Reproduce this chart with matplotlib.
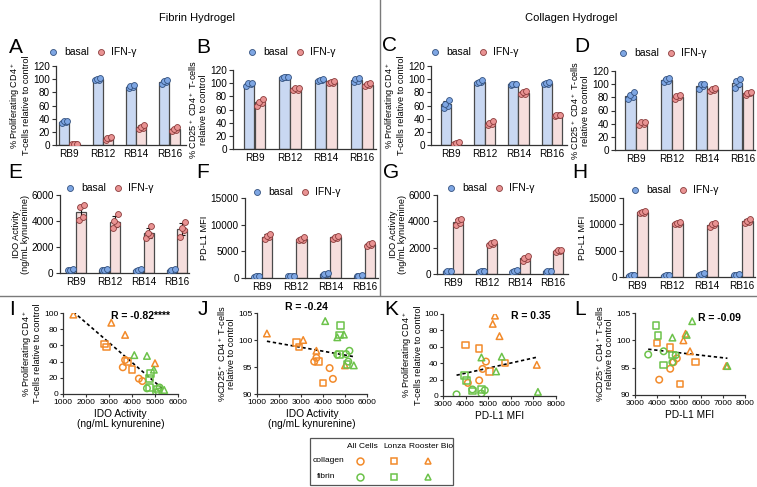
import numpy as np
import matplotlib
matplotlib.use("Agg")
import matplotlib.pyplot as plt
from matplotlib.patches import Rectangle

plt.rcParams['font.family'] = ['Liberation Sans', 'DejaVu Sans']
plt.rcParams['mathtext.fontset'] = 'custom'
plt.rcParams['mathtext.rm'] = 'Liberation Sans'
plt.rcParams['mathtext.default'] = 'regular'

# ---------------- data ----------------
cell_lines = ["RB9", "RB12", "RB14", "RB16"]
groups = ["basal", "IFN-γ"]

fib_prolif_basal = [[33, 35, 36, 37], [98, 99, 100, 102], [87, 88, 89, 91], [93, 95, 97, 99]]
fib_prolif_ifn = [[1, 2, 2, 2], [8, 10, 11, 12], [24, 26, 28, 31], [22, 23, 25, 27]]
fib_cd25_basal = [[96, 98, 100, 101], [108, 109, 110, 110], [104, 105, 105, 106], [102, 104, 106, 108]]
fib_cd25_ifn = [[66, 70, 72, 76], [89, 90, 92, 93], [100, 101, 102, 103], [96, 97, 98, 100]]
col_prolif_basal = [[56, 60, 63, 69], [94, 95, 96, 98], [91, 92, 92, 93], [93, 93, 94, 96]]
col_prolif_ifn = [[2, 3, 3, 4], [31, 32, 34, 36], [77, 78, 80, 82], [44, 45, 46, 46]]
col_cd25_basal = [[77, 80, 84, 88], [103, 105, 108, 110], [93, 97, 100, 101], [94, 100, 105, 108]]
col_cd25_ifn = [[38, 40, 42, 43], [78, 80, 82, 83], [90, 91, 93, 94], [84, 86, 87, 88]]
fib_ido_basal = [[200, 250, 250, 300], [200, 250, 250, 300], [150, 200, 200, 300], [150, 200, 200, 300]]
fib_ido_ifn = [[4100, 4300, 5100, 5200], [3500, 3800, 4000, 4500], [2700, 2900, 3100, 3600], [2800, 3300, 3500, 3900]]
fib_pdl1_basal = [[200, 300, 300, 400], [300, 400, 400, 400], [600, 800, 800, 900], [300, 400, 400, 500]]
fib_pdl1_ifn = [[7300, 7600, 7900, 8300], [7100, 7200, 7400, 7600], [7300, 7500, 7700, 7900], [6000, 6200, 6400, 6600]]
col_ido_basal = [[150, 200, 200, 250], [150, 200, 200, 250], [150, 200, 250, 300], [150, 200, 200, 250]]
col_ido_ifn = [[3700, 3900, 4100, 4200], [2200, 2300, 2350, 2450], [1000, 1150, 1250, 1350], [1700, 1750, 1800, 1850]]
col_pdl1_basal = [[200, 300, 300, 400], [200, 300, 300, 400], [300, 400, 500, 700], [300, 400, 400, 500]]
col_pdl1_ifn = [[12100, 12200, 12400, 12600], [10000, 10100, 10300, 10500], [9500, 9800, 10000, 10300], [10300, 10500, 10700, 11000]]

# correlation scatter data (per hydrogel / cell source)
hydrogels = ["collagen", "fibrin"]
sources = ["All Cells", "Lonza", "Rooster Bio"]
col_all_ido = [3600, 3700, 4300, 4450]
col_all_pdl1 = [4750, 4900, 4600, 4100]
col_all_prolif = [33, 42, 19, 16]
col_all_cd25 = [96.0, 96.7, 94.8, 92.8]
col_lonza_ido = [2800, 2900, 3800, 4000]
col_lonza_pdl1 = [4000, 4600, 5750, 5050]
col_lonza_prolif = [62, 58, 40, 30]
col_lonza_cd25 = [99.5, 98.7, 96.0, 92.0]
col_rooster_ido = [1450, 3100, 3700, 5000]
col_rooster_pdl1 = [5300, 5200, 5500, 7150]
col_rooster_prolif = [98, 88, 73, 38]
col_rooster_cd25 = [101.2, 100.0, 98.0, 95.3]
fib_all_ido = [5050, 5200, 5150, 4650]
fib_all_pdl1 = [3600, 4300, 4700, 4850]
fib_all_prolif = [2, 8, 3, 7]
fib_all_cd25 = [97.4, 98.0, 96.0, 97.3]
fib_lonza_ido = [4800, 4750, 5100, 4750]
fib_lonza_pdl1 = [3950, 4050, 4300, 4700]
fib_lonza_prolif = [25, 19, 6, 8]
fib_lonza_cd25 = [102.7, 100.9, 95.5, 97.3]
fib_rooster_ido = [4100, 4650, 4950, 5400]
fib_rooster_pdl1 = [5600, 4700, 5350, 7200]
fib_rooster_prolif = [48, 47, 30, 5]
fib_rooster_cd25 = [103.5, 100.5, 101.0, 95.3]
r_labels = ["R = -0.82****", "R = -0.24", "R = 0.35", "R = -0.09"]

# ---------------- figure ----------------
W, H = 757, 487
fig = plt.figure(figsize=(W / 100, H / 100), dpi=100)

def ax_px(x0, ytop, x1, ybot):
    return fig.add_axes([x0 / W, 1 - ybot / H, (x1 - x0) / W, (ybot - ytop) / H])

BLUE_FILL, BLUE_PT, BLUE_EDGE = '#C9D8F2', '#7EA6E3', '#34527F'
PINK_FILL, PINK_PT, PINK_EDGE = '#F6DEDD', '#E99393', '#8A3C3C'
ORANGE, GREEN = '#F28A2A', '#6CC24A'
JIT = np.array([-0.07, 0.05, -0.02, 0.08])

def style(ax, fs=7, ln=3, pad=1.5):
    for s in ['top', 'right']:
        ax.spines[s].set_visible(False)
    for s in ['left', 'bottom']:
        ax.spines[s].set_linewidth(0.9)
        ax.spines[s].set_color('#333333')
    ax.tick_params(axis='both', labelsize=fs, length=ln, width=0.8, pad=pad, colors='#333333', labelcolor='black')

def bar_panel(rect, basal, ifn, ylim, yticks, xlim, ylabel):
    ax = ax_px(*rect)
    x = np.arange(len(cell_lines))
    for vals, off, fc, pc, pe in [(basal, -0.155, BLUE_FILL, BLUE_PT, BLUE_EDGE),
                                  (ifn, 0.155, PINK_FILL, PINK_PT, PINK_EDGE)]:
        arr = np.array(vals, float)
        means = arr.mean(axis=1)
        sds = arr.std(axis=1, ddof=1)
        ax.bar(x + off, means, width=0.3, color=fc, edgecolor='#4a4a4a', linewidth=0.9, zorder=1)
        ax.errorbar(x + off, means, yerr=sds, fmt='none', ecolor='#111111', elinewidth=0.8,
                    capsize=2, capthick=0.8, zorder=2)
        for i in range(len(x)):
            ax.scatter(x[i] + off + JIT, arr[i], s=18, c=pc, edgecolors=pe, linewidths=0.6, zorder=3)
    ax.set_xlim(*xlim)
    ax.set_ylim(*ylim)
    ax.set_yticks(yticks)
    ax.set_xticks(x, cell_lines)
    style(ax, fs=7.2)
    ax.tick_params(axis='x', length=0, pad=3)
    ax.set_ylabel(ylabel, fontsize=6.6, labelpad=1, linespacing=1.0)
    return ax

lab_prolif = "% Proliferating CD4$^+$\nT-cells relative to control"
lab_cd25 = "% CD25$^+$ CD4$^+$ T-cells\nrelative to control"
lab_ido = "IDO Activity\n(ng/mL kynurenine)"
lab_pdl1 = "PD-L1 MFI"

pct = [0, 20, 40, 60, 80, 100, 120]
bar_panel((56, 66, 186, 145), fib_prolif_basal, fib_prolif_ifn, (0, 120), pct, (-0.4, 3.5), lab_prolif)
bar_panel((233, 70, 376, 149), fib_cd25_basal, fib_cd25_ifn, (0, 120), pct, (-0.6, 3.4), lab_cd25)
bar_panel((431, 66, 567, 145), col_prolif_basal, col_prolif_ifn, (0, 120), pct, (-0.6, 3.45), lab_prolif)
bar_panel((615, 71, 755, 150), col_cd25_basal, col_cd25_ifn, (0, 120), pct, (-0.6, 3.35), lab_cd25)
bar_panel((60, 195, 189, 273), fib_ido_basal, fib_ido_ifn, (0, 6000), [0, 2000, 4000, 6000], (-0.47, 3.35), lab_ido)
bar_panel((245, 198, 378, 278), fib_pdl1_basal, fib_pdl1_ifn, (0, 15000), [0, 5000, 10000, 15000], (-0.5, 3.4), lab_pdl1)
bar_panel((437, 195, 568, 274), col_ido_basal, col_ido_ifn, (0, 6000), [0, 2000, 4000, 6000], (-0.48, 3.45), lab_ido)
bar_panel((623, 198, 755, 277), col_pdl1_basal, col_pdl1_ifn, (0, 15000), [0, 5000, 10000, 15000], (-0.4, 3.37), lab_pdl1)

# scatter panels
scatter_sets = [
    (ORANGE, 'o', col_all_ido, col_all_pdl1, col_all_prolif, col_all_cd25),
    (ORANGE, 's', col_lonza_ido, col_lonza_pdl1, col_lonza_prolif, col_lonza_cd25),
    (ORANGE, '^', col_rooster_ido, col_rooster_pdl1, col_rooster_prolif, col_rooster_cd25),
    (GREEN, 'o', fib_all_ido, fib_all_pdl1, fib_all_prolif, fib_all_cd25),
    (GREEN, 's', fib_lonza_ido, fib_lonza_pdl1, fib_lonza_prolif, fib_lonza_cd25),
    (GREEN, '^', fib_rooster_ido, fib_rooster_pdl1, fib_rooster_prolif, fib_rooster_cd25),
]

def scatter_panel(rect, xi, yi, xlim, xticks, ylim, yticks, xlabel, ylabel, rtxt, rpos):
    ax = ax_px(*rect)
    allx, ally = [], []
    for col, mk, *vals in scatter_sets:
        xs, ys = vals[xi], vals[yi]
        ax.scatter(xs, ys, marker=mk, facecolors='none', edgecolors=col, s=22, linewidths=1.1, zorder=3)
        allx += list(xs)
        ally += list(ys)
    allx, ally = np.array(allx, float), np.array(ally, float)
    k, b = np.polyfit(allx, ally, 1)
    xx = np.array([allx.min(), allx.max()])
    ax.plot(xx, k * xx + b, color='black', lw=1.2, ls=(0, (2, 1.6)), zorder=2)
    ax.set_xlim(*xlim)
    ax.set_ylim(*ylim)
    ax.set_xticks(xticks)
    ax.set_yticks(yticks)
    style(ax, fs=6.0, ln=2.5, pad=1)
    ax.set_xlabel(xlabel, fontsize=7.3, labelpad=2, linespacing=1.1)
    ax.set_ylabel(ylabel, fontsize=6.6, labelpad=1, linespacing=1.0)
    ax.text(rpos[0], rpos[1], rtxt, fontsize=7.5, fontweight='bold', ha='center', va='center', clip_on=False)
    return ax

lab_cd25b = "%CD25$^+$ CD4$^+$ T-cells\nrelative to control"
scatter_panel((63, 313, 178, 394), 0, 2, (1000, 6000), range(1000, 6001, 1000), (0, 100),
              range(0, 101, 20), lab_ido, lab_prolif, r_labels[0], (4350, 96))
scatter_panel((257, 313, 367, 394), 0, 3, (1000, 6000), range(1000, 6001, 1000), (90, 105),
              [90, 95, 100, 105], lab_ido, lab_cd25b, r_labels[1], (3230, 106.2))
scatter_panel((443, 314, 556, 396), 1, 2, (3000, 8000), range(3000, 8001, 1000), (0, 100),
              range(0, 101, 20), lab_pdl1, lab_prolif, r_labels[2], (6890, 97))
scatter_panel((635, 313, 745, 395), 1, 3, (3000, 8000), range(3000, 8001, 1000), (90, 105),
              [90, 95, 100, 105], lab_pdl1, lab_cd25b, r_labels[3], (6860, 104.0))

# ---------------- overlay (annotations) ----------------
ov = fig.add_axes([0, 0, 1, 1], zorder=10)
ov.set_xlim(0, W)
ov.set_ylim(H, 0)
ov.axis('off')

ov.text(197, 18, "Fibrin Hydrogel", fontsize=8, ha='center', va='center')
ov.text(571, 18, "Collagen Hydrogel", fontsize=8, ha='center', va='center')
ov.plot([380, 380], [0, 295], color='#7a7a7a', lw=1)
ov.plot([0, W], [295.5, 295.5], color='#7a7a7a', lw=1)

letters = [("A", 9, 38), ("B", 196, 38), ("C", 382, 36), ("D", 574, 37),
           ("E", 8, 163), ("F", 196, 163), ("G", 383, 163), ("H", 572, 163),
           ("I", 9, 300), ("J", 198, 300), ("K", 384, 300), ("L", 574, 300)]
for t, x, y in letters:
    ov.text(x, y, t, fontsize=15, ha='left', va='top')

bar_leg = [(53, 52), (252, 52), (435, 52), (623, 53), (70, 188), (257, 192), (451, 188), (635, 190)]
for x, y in bar_leg:
    ov.plot([x], [y], 'o', ms=4.3, mfc=BLUE_PT, mec=BLUE_EDGE, mew=0.6)
    ov.text(x + 11, y, groups[0], fontsize=7.5, va='center', ha='left')
    ov.plot([x + 48], [y], 'o', ms=4.3, mfc=PINK_PT, mec=PINK_EDGE, mew=0.6)
    ov.text(x + 58, y, groups[1], fontsize=7.5, va='center', ha='left')

# shape legend box
ov.add_patch(Rectangle((310, 438), 143, 47, fill=False, edgecolor='#555555', lw=0.9))
col_x = [362, 395, 431]
mk_x = [360, 394, 428]
for s, cx in zip(sources, col_x):
    ov.text(cx, 446, s, fontsize=6, ha='center', va='center')
for h, y, c in [(hydrogels[0], 461, ORANGE), (hydrogels[1], 477, GREEN)]:
    ov.text(313 if h == "collagen" else 317, y, h, fontsize=6, ha='left', va='center')
    for mk, mx in zip(['o', 's', '^'], mk_x):
        ov.plot([mx], [y], mk, ms=5, mfc='none', mec=c, mew=1.1)

fig.savefig("out.png", dpi=100)
